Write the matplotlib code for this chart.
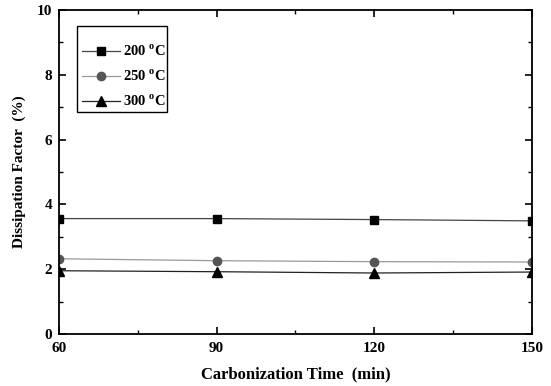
import matplotlib
matplotlib.use("Agg")
import matplotlib.pyplot as plt
from matplotlib.ticker import MultipleLocator
from matplotlib.patches import Rectangle

time_min = [60, 90, 120, 150]
df_200 = [3.56, 3.56, 3.53, 3.49]
df_250 = [2.32, 2.26, 2.23, 2.22]
df_300 = [1.95, 1.92, 1.88, 1.91]
labels = [r'200 $^{\mathbf{o}}$C', r'250 $^{\mathbf{o}}$C', r'300 $^{\mathbf{o}}$C']

plt.rcParams['font.family'] = ['Liberation Serif', 'DejaVu Serif']
plt.rcParams['font.weight'] = 'bold'
plt.rcParams['mathtext.fontset'] = 'custom'
plt.rcParams['mathtext.bf'] = 'Liberation Serif:bold'
plt.rcParams['mathtext.rm'] = 'Liberation Serif:bold'

fig = plt.figure(figsize=(5.51, 3.86), dpi=100)
ax = fig.add_axes([0.107, 0.135, 0.8585, 0.839])

ax.plot(time_min, df_200, '-', color='#444444', lw=0.9, marker='s', ms=5.5,
        mfc='black', mec='black', label=labels[0])
ax.plot(time_min, df_250, '-', color='#999999', lw=0.9, marker='o', ms=6,
        mfc='#555555', mec='#555555', label=labels[1])
ax.plot(time_min, df_300, '-', color='#222222', lw=0.9, marker='^', ms=6.5,
        mfc='black', mec='black', label=labels[2])

ax.set_xlim(60, 150)
ax.set_ylim(0, 10)
ax.xaxis.set_major_locator(MultipleLocator(30))
ax.xaxis.set_minor_locator(MultipleLocator(15))
ax.yaxis.set_major_locator(MultipleLocator(2))
ax.yaxis.set_minor_locator(MultipleLocator(1))
ax.tick_params(which='both', direction='in', top=True, right=True, labelsize=11)
ax.tick_params(which='major', length=5, width=1.2)
ax.tick_params(which='minor', length=3, width=1)
ax.tick_params(axis='x', which='major', pad=6)
ax.tick_params(axis='y', which='major', pad=5)
for s in ax.spines.values():
    s.set_linewidth(1.3)

ax.set_xlabel('Carbonization Time  (min)', fontsize=12, fontweight='bold', labelpad=8)
ax.set_ylabel('Dissipation Factor  (%)', fontsize=11, fontweight='bold', labelpad=8)

# legend frame drawn separately so the entries can sit where they do in the original
ax.add_patch(Rectangle((0.038, 0.685), 0.190, 0.265, transform=ax.transAxes,
                       facecolor='white', edgecolor='black', lw=1.0, zorder=4))
leg = ax.legend(loc='center left', bbox_to_anchor=(0.0486, 0.796), borderaxespad=0,
                fontsize=10.5, frameon=False, borderpad=0,
                handlelength=2.6, handletextpad=0.2, labelspacing=0.65)
leg.set_zorder(5)

fig.savefig('out.png', dpi=100)
